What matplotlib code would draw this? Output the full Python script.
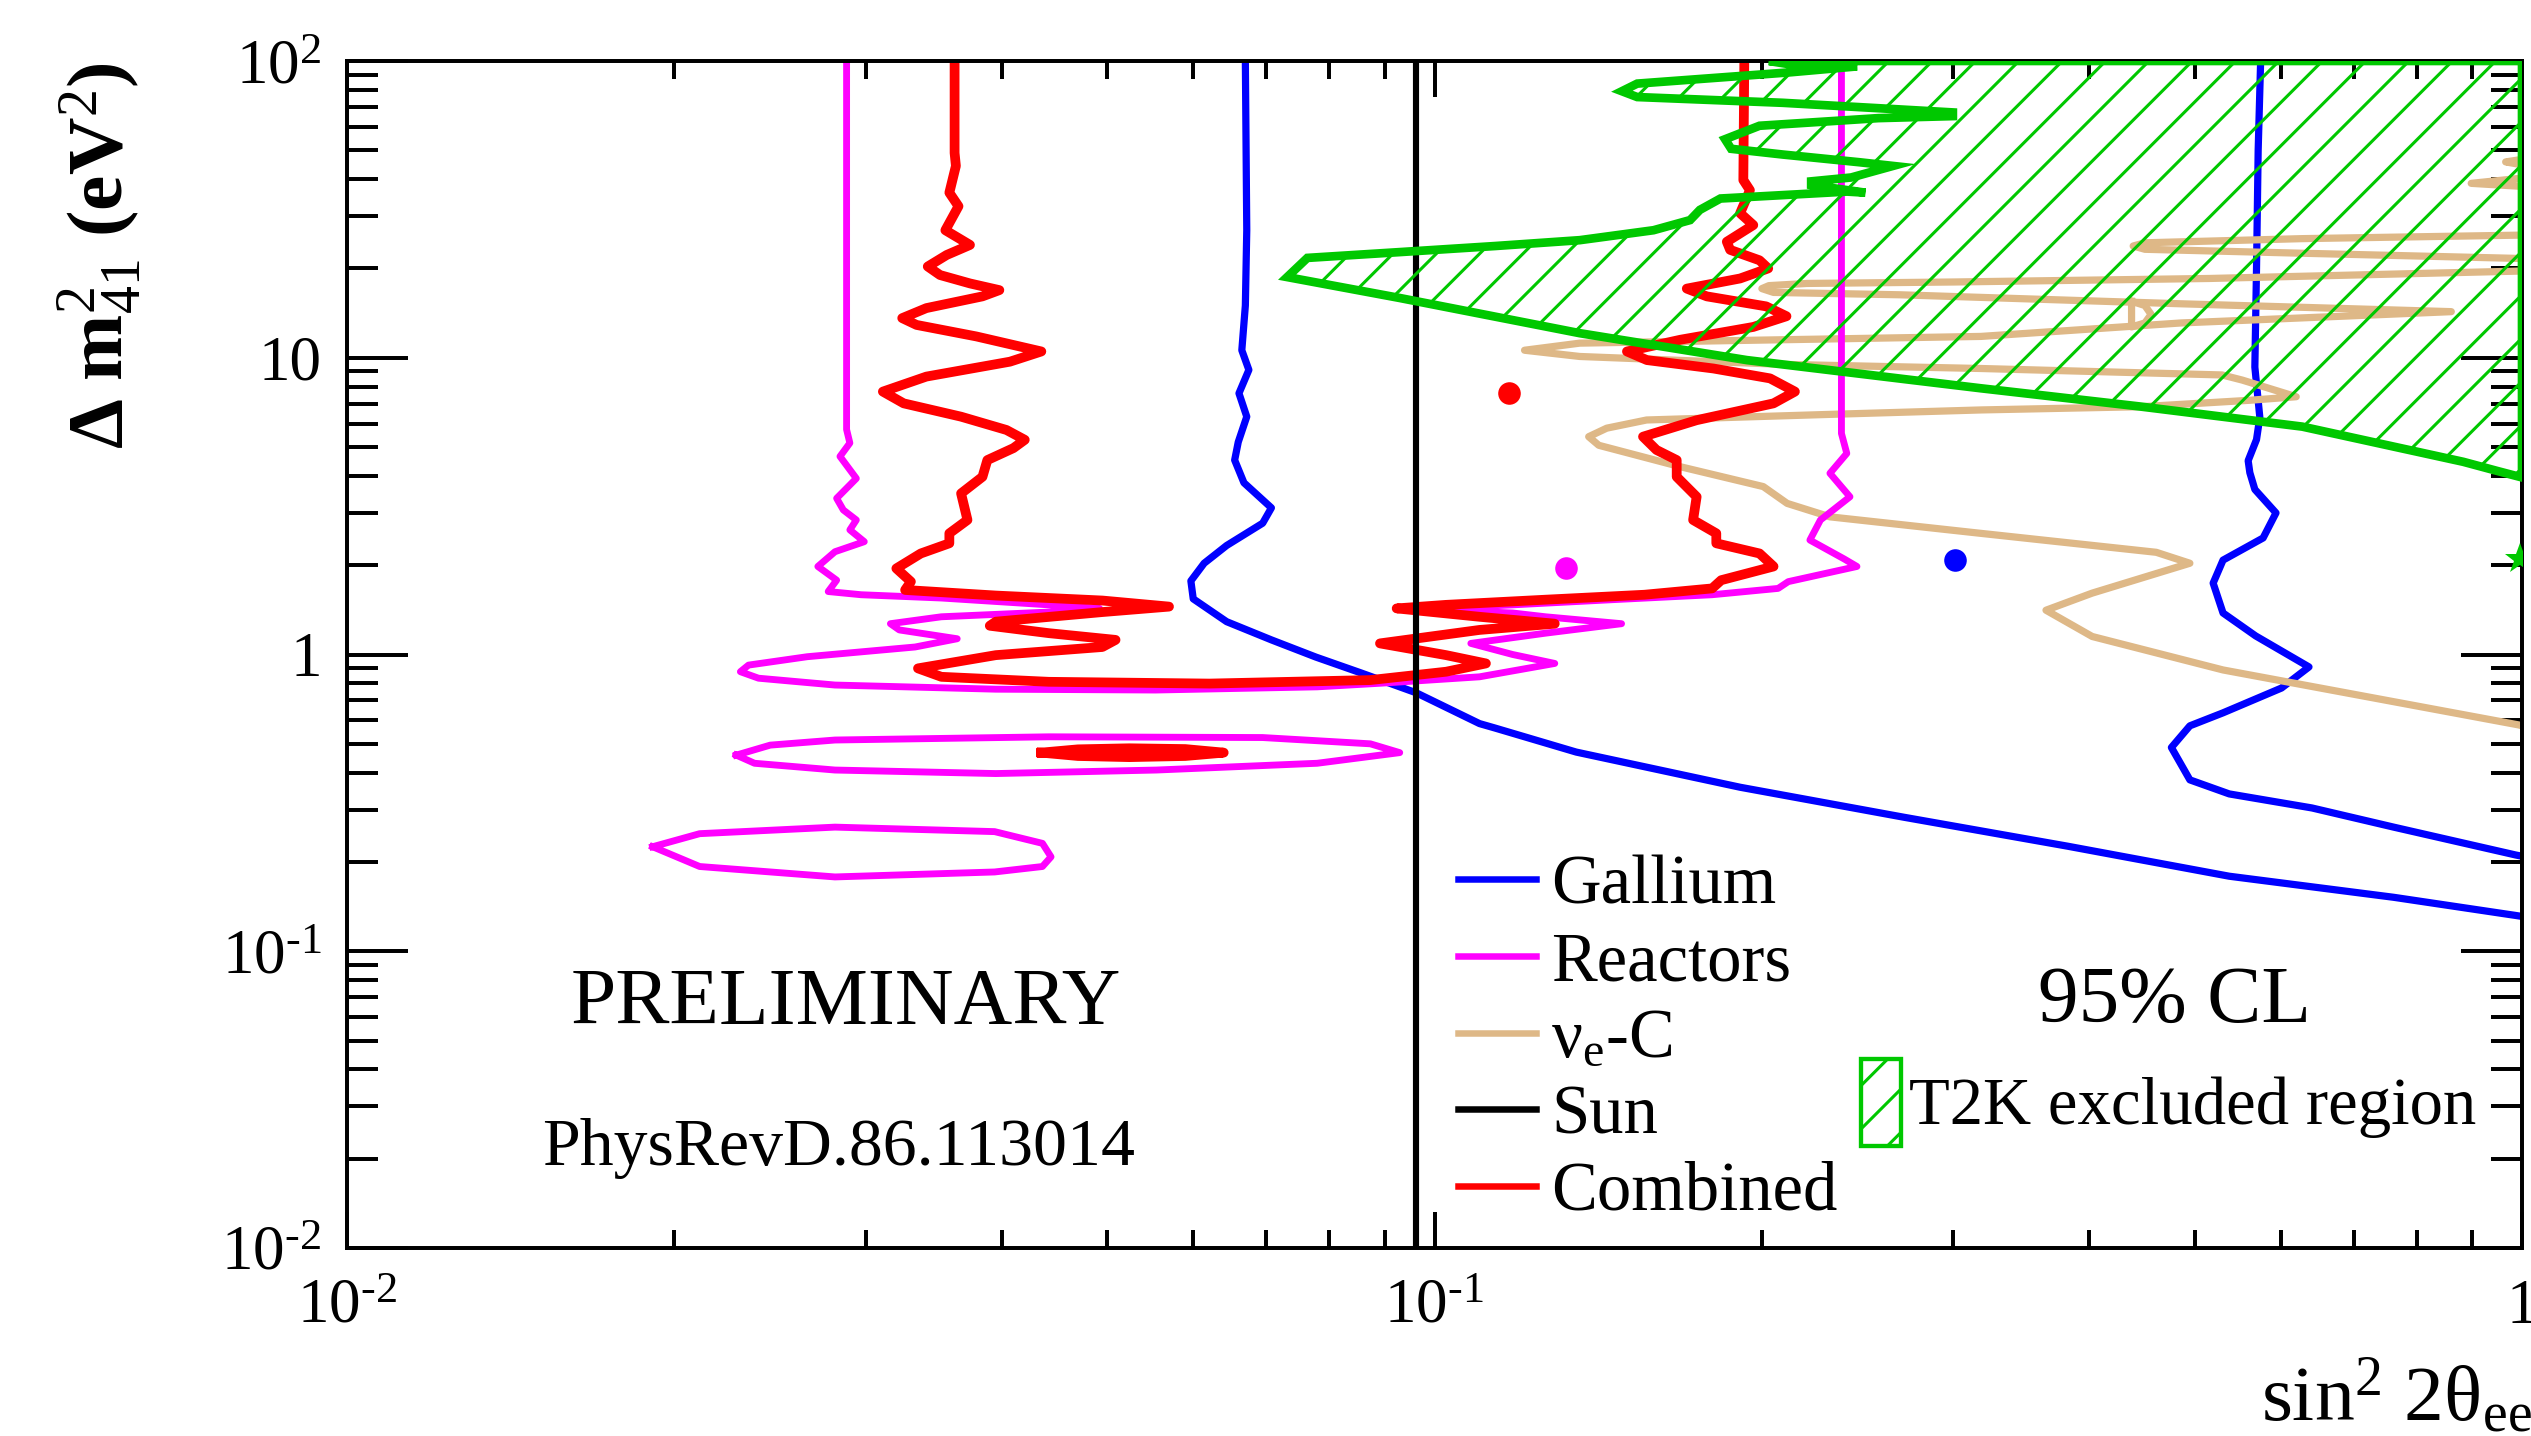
import numpy as np
import matplotlib
matplotlib.use('Agg')
import matplotlib.pyplot as plt
from matplotlib.ticker import FixedLocator, LogLocator, NullFormatter, FixedFormatter
from matplotlib.lines import Line2D
from matplotlib.patches import Patch

plt.rcParams['font.family'] = ['Liberation Serif', 'DejaVu Serif']
plt.rcParams['mathtext.fontset'] = 'custom'
plt.rcParams['mathtext.rm'] = 'Liberation Serif'
plt.rcParams['mathtext.it'] = 'Liberation Serif:italic'
plt.rcParams['mathtext.bf'] = 'Liberation Serif:bold'
plt.rcParams['hatch.linewidth'] = 1.7

# ---------------- data ----------------
gallium_left_x = [0.0670, 0.0672, 0.0670, 0.0665, 0.0675, 0.0661, 0.0672, 0.0660, 0.0655,
                  0.0668, 0.0708, 0.0695, 0.0644, 0.0614, 0.0597, 0.0600, 0.0644, 0.0708, 0.0778,
                  0.0855, 0.0962, 0.110, 0.1137, 0.135, 0.191, 0.270, 0.382, 0.538, 0.762, 0.987, 1.0]
gallium_left_y = [100, 26.9, 15, 10.6, 9.1, 7.59, 6.33, 5.2, 4.52,
                  3.79, 3.12, 2.77, 2.33, 2.03, 1.77, 1.54, 1.29, 1.12, 0.98,
                  0.868, 0.743, 0.585, 0.565, 0.469, 0.357, 0.283, 0.226, 0.179, 0.152, 0.132, 0.131]

gallium_right_x = [0.575, 0.572, 0.570, 0.568, 0.574, 0.570, 0.560, 0.562, 0.568, 0.594, 0.578,
                   0.531, 0.520, 0.531, 0.569, 0.637, 0.601, 0.531, 0.495, 0.476, 0.495, 0.538,
                   0.641, 0.762, 0.987, 1.0]
gallium_right_y = [100, 50, 20, 9.3, 6.3, 5.3, 4.5, 4.1, 3.6, 3.0, 2.47,
                   2.08, 1.74, 1.38, 1.155, 0.908, 0.771, 0.636, 0.575, 0.486, 0.378, 0.339,
                   0.304, 0.262, 0.211, 0.209]

reactors_x = [0.0288, 0.0288, 0.0290, 0.0284, 0.0294, 0.0282, 0.0286, 0.0294, 0.0290, 0.0299,
              0.0281, 0.0271, 0.0282, 0.0277, 0.0297, 0.0352, 0.0442, 0.0492, 0.0442, 0.0352,
              0.0316, 0.0322, 0.0364, 0.0333, 0.0265, 0.0234, 0.0230, 0.0239, 0.0281, 0.0395,
              0.0554, 0.078, 0.0891, 0.110, 0.129, 0.118, 0.108, 0.1265, 0.1486, 0.1265,
              0.118, 0.0969, 0.118, 0.1457, 0.180, 0.207, 0.2115, 0.2446, 0.238, 0.2214,
              0.2264, 0.241, 0.231, 0.2394, 0.2367, 0.2367]
reactors_y = [100, 5.73, 5.16, 4.65, 3.92, 3.36, 3.07, 2.84, 2.63, 2.40,
              2.22, 1.98, 1.78, 1.63, 1.59, 1.55, 1.47, 1.43, 1.39, 1.34,
              1.27, 1.21, 1.13, 1.06, 0.983, 0.921, 0.875, 0.832, 0.789, 0.764,
              0.759, 0.778, 0.80, 0.841, 0.933, 1.0, 1.09, 1.18, 1.27, 1.34,
              1.38, 1.42, 1.47, 1.53, 1.59, 1.67, 1.76, 1.98, 2.10, 2.43,
              2.84, 3.40, 4.08, 4.76, 5.56, 100]

reactors_isl1_x = [0.0228, 0.0245, 0.0281, 0.0442, 0.0695, 0.0873, 0.0929, 0.078, 0.0555, 0.0395, 0.0281, 0.0237, 0.0228]
reactors_isl1_y = [0.458, 0.495, 0.515, 0.528, 0.525, 0.50, 0.467, 0.430, 0.408, 0.397, 0.408, 0.430, 0.458]

reactors_isl2_x = [0.0191, 0.0211, 0.0281, 0.0394, 0.0436, 0.0444, 0.0436, 0.0394, 0.0281, 0.0211, 0.0191]
reactors_isl2_y = [0.225, 0.249, 0.262, 0.253, 0.231, 0.208, 0.193, 0.185, 0.178, 0.193, 0.225]

combined_x = [0.0362, 0.0362, 0.0363, 0.0358, 0.0365, 0.0355, 0.0374, 0.0356, 0.0342, 0.0351,
              0.0374, 0.0398, 0.0384, 0.0341, 0.0324, 0.0334, 0.0379, 0.0435, 0.0407, 0.0341,
              0.0311, 0.0325, 0.0367, 0.0404, 0.0420, 0.0410, 0.0388, 0.0384, 0.0367, 0.0372,
              0.0358, 0.0358, 0.0337, 0.0320, 0.0330, 0.0326,
              0.0395, 0.0495, 0.0570, 0.0495, 0.0395, 0.0390, 0.0442,
              0.0509, 0.0495, 0.0395, 0.0335, 0.0352, 0.0442, 0.0621, 0.0873, 0.1025, 0.1115,
              0.1025, 0.0891, 0.110, 0.129, 0.110, 0.0923, 0.1025, 0.1265, 0.156, 0.180,
              0.1835, 0.205, 0.199, 0.1816, 0.1816, 0.1729, 0.1742, 0.167, 0.167, 0.160,
              0.1555, 0.1742, 0.205, 0.2145, 0.2035, 0.1805, 0.1568, 0.1503, 0.1683, 0.1964,
              0.2107, 0.2018, 0.178, 0.1706, 0.191, 0.2027, 0.199, 0.187, 0.1857, 0.1964,
              0.191, 0.195, 0.1923, 0.1927]
combined_y = [100, 49, 44.3, 36, 32.4, 26.9, 24.0, 22.2, 20.3, 19.0,
              17.8, 16.9, 16.1, 14.7, 13.6, 12.9, 11.8, 10.5, 9.70, 8.64,
              7.69, 7.02, 6.33, 5.71, 5.29, 4.96, 4.52, 3.97, 3.49, 2.84,
              2.56, 2.37, 2.19, 1.95, 1.76, 1.65,
              1.58, 1.52, 1.45, 1.39, 1.29, 1.25, 1.18,
              1.12, 1.06, 0.995, 0.898, 0.841, 0.809, 0.798, 0.82, 0.875, 0.933,
              0.995, 1.09, 1.21, 1.27, 1.34, 1.43, 1.47, 1.53, 1.59, 1.67,
              1.78, 1.98, 2.19, 2.37, 2.56, 2.84, 3.40, 3.97, 4.52, 4.89,
              5.42, 6.16, 7.02, 7.69, 8.52, 9.20, 9.82, 10.5, 11.5, 12.7,
              13.8, 14.9, 16.1, 17.1, 18.5, 20.0, 21.3, 23.1, 24.6, 28.0,
              30.7, 36.7, 39.7, 100]

combined_isl_x = [0.0435, 0.047, 0.0524, 0.059, 0.064, 0.059, 0.0524, 0.047, 0.0435]
combined_isl_y = [0.467, 0.479, 0.483, 0.480, 0.467, 0.455, 0.451, 0.455, 0.467]

nuc_main_x = [1.0, 0.516, 0.30, 0.22, 0.203, 0.200, 0.205, 0.268, 0.331, 0.486,
              0.861, 0.486, 0.318, 0.136, 0.121, 0.136, 0.209, 0.318, 0.53,
              0.553, 0.62, 0.562, 0.447, 0.318, 0.2264, 0.1567, 0.144, 0.1386, 0.1416,
              0.168, 0.2006, 0.211, 0.231, 0.318, 0.461, 0.495, 0.4025,
              0.365, 0.4025, 0.531, 0.993, 1.0]
nuc_main_y = [19.6, 18.5, 18.0, 17.8, 17.5, 17.1, 16.6, 16.3, 15.9, 15.2,
              14.3, 13.1, 11.8, 11.2, 10.6, 10.1, 9.5, 9.2, 8.75,
              8.41, 7.39, 7.19, 6.84, 6.67, 6.43, 6.17, 5.79, 5.42, 5.07,
              4.30, 3.68, 3.23, 2.91, 2.56, 2.21, 2.03, 1.61,
              1.41, 1.15, 0.887, 0.579, 0.575]
nuc_b_x = [1.0, 0.628, 0.45, 0.439, 0.45, 0.628, 1.0]
nuc_b_y = [25.9, 25.2, 24.4, 23.8, 23.2, 22.5, 21.6]
nuc_c_x = [1.0, 0.898, 1.0]
nuc_c_y = [40.3, 38.7, 37.8]
nuc_d_x = [1.0, 0.966, 1.0]
nuc_d_y = [46.6, 45.7, 44.7]
nuc_e_x = [0.4375, 0.450, 0.456, 0.450, 0.4375, 0.4375]
nuc_e_y = [15.5, 15.0, 14.0, 13.1, 12.7, 15.5]

sun_x = [0.0962, 0.0962]
sun_y = [0.01, 100]

t2k_x = [0.203, 0.212, 0.2447, 0.2124, 0.1536, 0.1487, 0.1536, 0.209, 0.2997, 0.2997,
         0.256, 0.199, 0.185, 0.1874, 0.209, 0.2457, 0.264, 0.2416, 0.222, 0.222,
         0.249, 0.2395, 0.1832, 0.1754, 0.1718, 0.159, 0.136, 0.1138, 0.0929, 0.0764, 0.0732,
         0.0929, 0.136, 0.1937, 0.275, 0.318, 0.447, 0.628, 0.883, 0.95, 1.0, 1.0]
t2k_y = [100, 97.5, 95.9, 91.6, 83.9, 79.1, 75.6, 72.3, 67.1, 65.2,
         64.2, 60.5, 54.5, 50.6, 48.4, 45.6, 44.3, 40.5, 39.3, 38.2,
         36.0, 36.3, 34.4, 31.5, 29.1, 26.9, 24.9, 23.8, 22.7, 21.7, 18.7,
         15.9, 12.1, 9.82, 8.41, 7.89, 6.84, 5.86, 4.46, 4.15, 3.95, 100]

best_x = [0.117, 0.132, 0.301]
best_y = [7.6, 1.95, 2.08]
best_c = ['#FF0000', '#FF00FF', '#0000FF']
t2k_best_x = [0.995]
t2k_best_y = [2.10]

xtick_vals = [0.01, 0.1, 1.0]
xtick_labels = [r'$10^{\text{-}2}$', r'$10^{\text{-}1}$', '1']
ytick_vals = [0.01, 0.1, 1.0, 10.0, 100.0]
ytick_labels = [r'$10^{\text{-}2}$', r'$10^{\text{-}1}$', '1', '10', r'$10^{2}$']

# ---------------- styling ----------------
BLUE = '#0000FF'
MAG = '#FF00FF'
RED = '#FF0000'
TAN = '#DEB887'
GREEN = '#00C800'

DPI = 130
W, H = 2531, 1436
fig = plt.figure(figsize=(W / DPI, H / DPI), dpi=DPI)
ax = fig.add_axes([347 / W, 1 - 1248 / H, (2522 - 347) / W, (1248 - 61) / H])
ax.set_xscale('log')
ax.set_yscale('log')
ax.set_xlim(0.01, 1.0)
ax.set_ylim(0.01, 100)

ax.plot(gallium_left_x, gallium_left_y, color=BLUE, lw=4.0, zorder=2, solid_joinstyle='round')
ax.plot(gallium_right_x, gallium_right_y, color=BLUE, lw=4.0, zorder=2, solid_joinstyle='round')
for xs, ys in [(nuc_main_x, nuc_main_y), (nuc_b_x, nuc_b_y), (nuc_c_x, nuc_c_y),
               (nuc_d_x, nuc_d_y), (nuc_e_x, nuc_e_y)]:
    ax.plot(xs, ys, color=TAN, lw=4.0, zorder=2, solid_joinstyle='round')
for xs, ys in [(reactors_x, reactors_y), (reactors_isl1_x, reactors_isl1_y),
               (reactors_isl2_x, reactors_isl2_y)]:
    ax.plot(xs, ys, color=MAG, lw=3.8, zorder=2.2, solid_joinstyle='round')
for xs, ys in [(combined_x, combined_y), (combined_isl_x, combined_isl_y)]:
    ax.plot(xs, ys, color=RED, lw=5.4, zorder=2.4, solid_joinstyle='round')
ax.plot(sun_x, sun_y, color='black', lw=3.4, zorder=2.5)

ax.fill(t2k_x, t2k_y, facecolor='none', edgecolor=GREEN, hatch='/', lw=4.8, zorder=3,
        joinstyle='miter')

for bx, by, bc in zip(best_x, best_y, best_c):
    ax.plot([bx], [by], 'o', color=bc, ms=12.5, mec='none', zorder=4)
ax.plot(t2k_best_x, t2k_best_y, '*', color=GREEN, ms=18, mec='none', zorder=4)

# axes / ticks
for s in ax.spines.values():
    s.set_linewidth(2.2)
ax.xaxis.set_major_locator(FixedLocator(xtick_vals))
ax.xaxis.set_major_formatter(FixedFormatter(xtick_labels))
ax.yaxis.set_major_locator(FixedLocator(ytick_vals))
ax.yaxis.set_major_formatter(FixedFormatter(ytick_labels))
ax.xaxis.set_minor_locator(LogLocator(base=10, subs=np.arange(2, 10), numticks=20))
ax.yaxis.set_minor_locator(LogLocator(base=10, subs=np.arange(2, 10), numticks=20))
ax.xaxis.set_minor_formatter(NullFormatter())
ax.yaxis.set_minor_formatter(NullFormatter())
ax.tick_params(axis='both', which='both', direction='in', top=True, right=True, width=2.2)
ax.tick_params(axis='y', which='major', length=34, pad=14, labelsize=35)
ax.tick_params(axis='y', which='minor', length=17)
ax.tick_params(axis='x', which='major', length=20, pad=17, labelsize=35)
ax.tick_params(axis='x', which='minor', length=10)

# labels
fig.text(100 / W, 1 - 62 / H, r'$\mathbf{\Delta\ m}^{2}_{41}\ \mathbf{(eV}^{2}\mathbf{)}$',
         rotation=90, ha='center', va='top', fontsize=44)
fig.text(2261 / W, 1 - 1420 / H, r'sin$^{2}$ 2$\mathrm{\theta}_{\mathrm{ee}}$',
         ha='left', va='baseline', fontsize=44)

fig.text(846 / W, 1 - 1024 / H, 'PRELIMINARY', ha='center', va='baseline', fontsize=45)
fig.text(838 / W, 1 - 1165 / H, 'PhysRevD.86.113014', ha='center', va='baseline', fontsize=37.5)
fig.text(2175 / W, 1 - 1022 / H, '95% CL', ha='center', va='baseline', fontsize=45)

# legends
h1 = [Line2D([], [], color=BLUE, lw=3.6), Line2D([], [], color=MAG, lw=3.6),
      Line2D([], [], color=TAN, lw=3.6), Line2D([], [], color='black', lw=3.6),
      Line2D([], [], color=RED, lw=3.6)]
l1 = ['Gallium', 'Reactors', r'$\mathrm{\nu}_{\mathrm{e}}$-C', 'Sun', 'Combined']
leg1 = ax.legend(h1, l1, loc='upper left', bbox_to_anchor=(1458 / W, 1 - 855 / H),
                 bbox_transform=fig.transFigure, frameon=False, fontsize=38,
                 handlelength=1.13, handletextpad=0.23, labelspacing=0.19,
                 borderpad=0, borderaxespad=0)
ax.add_artist(leg1)
h2 = [Patch(facecolor='none', edgecolor=GREEN, hatch='/', lw=2.4)]
leg2 = ax.legend(h2, ['T2K excluded region'], loc='upper left',
                 bbox_to_anchor=(1861 / W, 1 - 1059 / H), bbox_transform=fig.transFigure,
                 frameon=False, fontsize=37, handlelength=0.6, handleheight=1.62,
                 handletextpad=0.12, borderpad=0, borderaxespad=0)

fig.savefig('out.png', dpi=DPI)
